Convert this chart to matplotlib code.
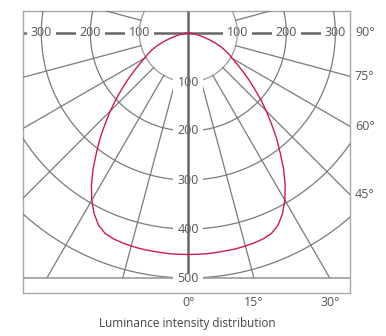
import numpy as np
import matplotlib
matplotlib.use("Agg")
import matplotlib.pyplot as plt

# ---- data ----
angles_deg = [0, 2.5, 5, 7.5, 10, 12.5, 15, 17.5, 20, 22.5, 25, 27.5, 30, 32.5, 35, 37.5, 40,
              42.5, 45, 47.5, 50, 52.5, 55, 57.5, 60, 62.5, 65, 67.5, 70, 72.5, 75, 77.5, 80,
              82.5, 85, 87.5, 90]
intensity = [452, 452, 452, 451.5, 451, 451, 450, 449, 447, 443, 433, 416, 394, 368, 339, 308, 280,
             251, 225, 200, 176, 155, 135, 118, 104, 93, 82, 70, 57, 44, 32, 23, 15,
             9, 5, 2, 0]
ring_values = [100, 200, 300, 400, 500]
radial_angles = [15, 30, 45, 60, 75, 105]
side_angle_labels = [90, 75, 60, 45]
bottom_angle_labels = [0, 15, 30]
h_tick_values = [100, 200, 300]
title = "Luminance intensity distribution"

# ---- layout ----
W, H = 386, 336
fig = plt.figure(figsize=(W / 100, H / 100), dpi=100)
left_px, right_px, top_px, bottom_px = 23, 350, 11, 293
ax = fig.add_axes([left_px / W, 1 - bottom_px / H, (right_px - left_px) / W, (bottom_px - top_px) / H])
cx, cy, scale = 188.3, 33.0, 0.49  # px, px per unit
xmin = (left_px - cx) / scale
xmax = (right_px - cx) / scale
ymax = (cy - top_px) / scale
ymin = -(bottom_px - cy) / scale
ax.set_xlim(xmin, xmax)
ax.set_ylim(ymin, ymax)
ax.set_xticks([]); ax.set_yticks([])
for s in ax.spines.values():
    s.set_color('#a8a8a8'); s.set_linewidth(1.0)

grid_c = '#7a7a7a'
txt_c = '#555555'
fs = 9
font = 'Open Sans'

# horizontal 90 deg axis line
ax.plot([xmin, xmax], [0, 0], color='#666666', lw=1.8, zorder=1, solid_capstyle='butt')
for v in h_tick_values:
    for sgn in (-1, 1):
        ax.text(sgn * v, 0, str(v), ha='center', va='center', fontsize=fs, color=txt_c, family=font,
                zorder=2, bbox=dict(boxstyle='square,pad=0.3', fc='white', ec='none'))

# rings
t = np.linspace(0, 2 * np.pi, 721)
for r in ring_values:
    ax.plot(r * np.cos(t), r * np.sin(t), color=grid_c if r > 100 else '#9a9a9a', lw=0.9, zorder=3)

# radial lines
bottom_line = -500
for a in radial_angles:
    th = np.radians(a)
    for sgn in (-1, 1):
        dx, dy = sgn * np.sin(th), -np.cos(th)
        rend = 2000 if dy >= 0 else min(2000, bottom_line / dy)
        ax.plot([100 * dx, rend * dx], [100 * dy, rend * dy], color=grid_c, lw=0.9, zorder=3)

# bottom horizontal line
ax.plot([xmin, xmax], [bottom_line, bottom_line], color='#9a9a9a', lw=1.2, zorder=3)

# vertical labels
for r in ring_values:
    ax.text(0, -r, str(r), ha='center', va='center', fontsize=fs, color=txt_c, family=font,
            zorder=4, bbox=dict(boxstyle='square,pad=0.35', fc='white', ec='none'))

# vertical axis line
ax.plot([0, 0], [ymax, -490], color='#666666', lw=1.8, zorder=5, solid_capstyle='butt')

# curve (symmetric)
th = np.radians(np.array(angles_deg, dtype=float))
I = np.array(intensity, dtype=float)
xr, yr = I * np.sin(th), -I * np.cos(th)
xs = np.concatenate([-xr[::-1], xr[1:]])
ys = np.concatenate([yr[::-1], yr[1:]])
ax.plot(xs, ys, color='#cf1a4e', lw=1.0, zorder=6, solid_joinstyle='round')

# side angle labels
for a in side_angle_labels:
    y = -xmax / np.tan(np.radians(a)) if a != 90 else 0
    ax.text(xmax + 10, y, f"{a}°", ha='left', va='center', fontsize=fs, color=txt_c, family=font,
            clip_on=False)
for a in bottom_angle_labels:
    x = -bottom_line * np.tan(np.radians(a))
    ax.text(x, ymin - 6, f"{a}°", ha='center', va='top', fontsize=fs, color=txt_c, family=font,
            clip_on=False)

fig.text(187 / W, 1 - 324 / H, title, ha='center', va='center', fontsize=8.5, color='#444444', family=font)

fig.savefig('out.png', dpi=100)
